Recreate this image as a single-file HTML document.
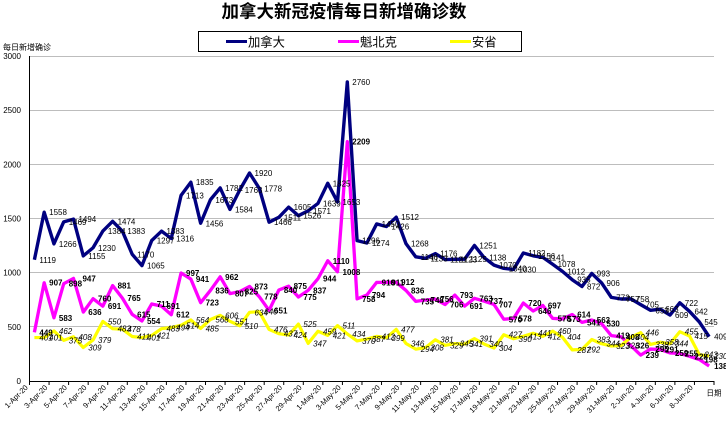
<!DOCTYPE html>
<html><head><meta charset="utf-8">
<style>
html,body{margin:0;padding:0;background:#fff;width:726px;height:423px;overflow:hidden}
svg{display:block}
text{font-family:"Liberation Sans","Noto Sans CJK SC",sans-serif}
.cjk{font-family:"Liberation Sans","Noto Sans CJK SC",sans-serif}
</style></head><body>
<svg width="726" height="423" viewBox="0 0 726 423" xmlns="http://www.w3.org/2000/svg">
<rect width="726" height="423" fill="#fff"/>
<!-- title -->
<text x="344" y="17.3" font-size="17.5" font-weight="bold" text-anchor="middle" class="cjk">加拿大新冠疫情每日新增确诊数</text>
<!-- legend -->
<rect x="198.5" y="31.5" width="323" height="20" fill="#fff" stroke="#000" stroke-width="1"/>
<line x1="226" y1="41.5" x2="247" y2="41.5" stroke="#000080" stroke-width="3"/>
<text x="248" y="46.3" font-size="12.3" class="cjk">加拿大</text>
<line x1="338" y1="41.5" x2="359" y2="41.5" stroke="#ff00ff" stroke-width="3"/>
<text x="360" y="46.3" font-size="12.3" class="cjk">魁北克</text>
<line x1="450" y1="41.5" x2="471" y2="41.5" stroke="#ffff00" stroke-width="3"/>
<text x="472" y="46.3" font-size="12.3" class="cjk">安省</text>
<!-- axis title -->
<text x="3" y="50" font-size="8" class="cjk">每日新增确诊</text>
<!-- gridlines -->
<g stroke="#bdbdbd" stroke-width="1">
<line x1="29.5" y1="56.5" x2="714" y2="56.5"/>
<line x1="29.5" y1="110.5" x2="714" y2="110.5"/>
<line x1="29.5" y1="164.5" x2="714" y2="164.5"/>
<line x1="29.5" y1="218.5" x2="714" y2="218.5"/>
<line x1="29.5" y1="272.5" x2="714" y2="272.5"/>
<line x1="29.5" y1="326.5" x2="714" y2="326.5"/>
</g>
<!-- y tick labels -->
<g font-size="8" text-anchor="end">
<text x="21" y="59">3000</text>
<text x="21" y="113.2">2500</text>
<text x="21" y="167.3">2000</text>
<text x="21" y="221.5">1500</text>
<text x="21" y="275.7">1000</text>
<text x="21" y="329.8">500</text>
<text x="21" y="384">0</text>
</g>
<!-- axes -->
<line x1="29.5" y1="56" x2="29.5" y2="381.5" stroke="#000" stroke-width="1"/>
<line x1="29.5" y1="381.5" x2="714" y2="381.5" stroke="#000" stroke-width="1"/>
<path stroke="#000" stroke-width="1" fill="none" d="M29.5,381V385M49.06,381V385M68.61,381V385M88.17,381V385M107.73,381V385M127.29,381V385M146.84,381V385M166.4,381V385M185.96,381V385M205.51,381V385M225.07,381V385M244.63,381V385M264.19,381V385M283.74,381V385M303.3,381V385M322.86,381V385M342.42,381V385M361.97,381V385M381.53,381V385M401.09,381V385M420.64,381V385M440.2,381V385M459.76,381V385M479.32,381V385M498.87,381V385M518.43,381V385M537.99,381V385M557.54,381V385M577.1,381V385M596.66,381V385M616.22,381V385M635.77,381V385M655.33,381V385M674.89,381V385M694.44,381V385M714,381V385"/>
<!-- x labels -->
<g font-size="7.5" text-anchor="end">
<text transform="translate(28.39 388) rotate(-45)">1-Apr-20</text>
<text transform="translate(47.95 388) rotate(-45)">3-Apr-20</text>
<text transform="translate(67.50 388) rotate(-45)">5-Apr-20</text>
<text transform="translate(87.06 388) rotate(-45)">7-Apr-20</text>
<text transform="translate(106.62 388) rotate(-45)">9-Apr-20</text>
<text transform="translate(126.18 388) rotate(-45)">11-Apr-20</text>
<text transform="translate(145.73 388) rotate(-45)">13-Apr-20</text>
<text transform="translate(165.29 388) rotate(-45)">15-Apr-20</text>
<text transform="translate(184.85 388) rotate(-45)">17-Apr-20</text>
<text transform="translate(204.40 388) rotate(-45)">19-Apr-20</text>
<text transform="translate(223.96 388) rotate(-45)">21-Apr-20</text>
<text transform="translate(243.52 388) rotate(-45)">23-Apr-20</text>
<text transform="translate(263.08 388) rotate(-45)">25-Apr-20</text>
<text transform="translate(282.63 388) rotate(-45)">27-Apr-20</text>
<text transform="translate(302.19 388) rotate(-45)">29-Apr-20</text>
<text transform="translate(321.75 388) rotate(-45)">1-May-20</text>
<text transform="translate(341.30 388) rotate(-45)">3-May-20</text>
<text transform="translate(360.86 388) rotate(-45)">5-May-20</text>
<text transform="translate(380.42 388) rotate(-45)">7-May-20</text>
<text transform="translate(399.98 388) rotate(-45)">9-May-20</text>
<text transform="translate(419.53 388) rotate(-45)">11-May-20</text>
<text transform="translate(439.09 388) rotate(-45)">13-May-20</text>
<text transform="translate(458.65 388) rotate(-45)">15-May-20</text>
<text transform="translate(478.20 388) rotate(-45)">17-May-20</text>
<text transform="translate(497.76 388) rotate(-45)">19-May-20</text>
<text transform="translate(517.32 388) rotate(-45)">21-May-20</text>
<text transform="translate(536.88 388) rotate(-45)">23-May-20</text>
<text transform="translate(556.43 388) rotate(-45)">25-May-20</text>
<text transform="translate(575.99 388) rotate(-45)">27-May-20</text>
<text transform="translate(595.55 388) rotate(-45)">29-May-20</text>
<text transform="translate(615.10 388) rotate(-45)">31-May-20</text>
<text transform="translate(634.66 388) rotate(-45)">2-Jun-20</text>
<text transform="translate(654.22 388) rotate(-45)">4-Jun-20</text>
<text transform="translate(673.78 388) rotate(-45)">6-Jun-20</text>
<text transform="translate(693.33 388) rotate(-45)">8-Jun-20</text>
</g>
<text x="706.5" y="395.5" font-size="7.5" class="cjk">日期</text>

<!-- data group: x = category index, y = value -->
<g transform="translate(34.389 381) scale(9.7786 -0.108333)">
<polyline fill="none" stroke="#000080" stroke-width="3.4" stroke-linejoin="round" vector-effect="non-scaling-stroke" points="0,1119 1,1558 2,1266 3,1469 4,1494 5,1155 6,1230 7,1384 8,1474 9,1383 10,1170 11,1065 12,1297 13,1383 14,1316 15,1713 16,1835 17,1456 18,1673 19,1782 20,1584 21,1763 22,1920 23,1778 24,1466 25,1511 26,1605 27,1526 28,1571 29,1639 30,1825 31,1653 32,2760 33,1296 34,1274 35,1450 36,1426 37,1512 38,1268 39,1146 40,1133 41,1176 42,1121 43,1123 44,1125 45,1251 46,1138 47,1070 48,1040 49,1030 50,1182 51,1156 52,1141 53,1078 54,1012 55,935 56,872 57,993 58,906 59,772 60,757 61,758 62,705 63,653 64,663 65,609 66,722 67,642 68,545 69,409"/>
<polyline fill="none" stroke="#ff00ff" stroke-width="3.3" stroke-linejoin="round" vector-effect="non-scaling-stroke" points="0,449 1,907 2,583 3,898 4,947 5,636 6,760 7,691 8,881 9,765 10,615 11,554 12,711 13,691 14,612 15,997 16,941 17,723 18,836 19,962 20,807 21,825 22,873 23,778 24,651 25,840 26,875 27,775 28,837 29,944 30,1110 31,1008 32,2209 33,758 34,794 35,910 36,911 37,912 38,836 39,735 40,748 41,756 42,706 43,793 44,691 45,763 46,737 47,707 48,570 49,578 50,720 51,646 52,697 53,578 54,573 55,614 56,541 57,563 58,530 59,419 60,408 61,326 62,239 63,295 64,291 65,259 66,255 67,228 68,198 69,138"/>
<polyline fill="none" stroke="#ffff00" stroke-width="3.2" stroke-linejoin="round" vector-effect="non-scaling-stroke" points="0,401 1,401 2,462 3,375 4,408 5,309 6,379 7,550 8,483 9,478 10,411 11,401 12,421 13,483 14,494 15,514 16,564 17,485 18,568 19,606 20,551 21,510 22,634 23,640 24,476 25,437 26,424 27,525 28,347 29,459 30,421 31,511 32,434 33,370 34,387 35,412 36,399 37,477 38,346 39,294 40,308 41,381 42,329 43,345 44,341 45,391 46,340 47,304 48,427 49,390 50,413 51,441 52,412 53,460 54,404 55,287 56,292 57,383 58,344 59,323 60,328 61,404 62,446 63,338 64,358 65,344 66,455 67,415 68,243 69,230"/>

<!-- Canada labels -->
<g font-size="8">
<text transform="translate(0 1119)scale(.102264 -9.23077)" x="5" y="3">1119</text>
<text transform="translate(1 1558)scale(.102264 -9.23077)" x="5" y="3">1558</text>
<text transform="translate(2 1266)scale(.102264 -9.23077)" x="5" y="3">1266</text>
<text transform="translate(3 1469)scale(.102264 -9.23077)" x="5" y="3">1469</text>
<text transform="translate(4 1494)scale(.102264 -9.23077)" x="5" y="3">1494</text>
<text transform="translate(5 1155)scale(.102264 -9.23077)" x="5" y="3">1155</text>
<text transform="translate(6 1230)scale(.102264 -9.23077)" x="5" y="3">1230</text>
<text transform="translate(7 1384)scale(.102264 -9.23077)" x="5" y="3">1384</text>
<text transform="translate(8 1474)scale(.102264 -9.23077)" x="5" y="3">1474</text>
<text transform="translate(9 1383)scale(.102264 -9.23077)" x="5" y="3">1383</text>
<text transform="translate(10 1170)scale(.102264 -9.23077)" x="5" y="3">1170</text>
<text transform="translate(11 1065)scale(.102264 -9.23077)" x="5" y="3">1065</text>
<text transform="translate(12 1297)scale(.102264 -9.23077)" x="5" y="3">1297</text>
<text transform="translate(13 1383)scale(.102264 -9.23077)" x="5" y="3">1383</text>
<text transform="translate(14 1316)scale(.102264 -9.23077)" x="5" y="3">1316</text>
<text transform="translate(15 1713)scale(.102264 -9.23077)" x="5" y="3">1713</text>
<text transform="translate(16 1835)scale(.102264 -9.23077)" x="5" y="3">1835</text>
<text transform="translate(17 1456)scale(.102264 -9.23077)" x="5" y="3">1456</text>
<text transform="translate(18 1673)scale(.102264 -9.23077)" x="5" y="3">1673</text>
<text transform="translate(19 1782)scale(.102264 -9.23077)" x="5" y="3">1782</text>
<text transform="translate(20 1584)scale(.102264 -9.23077)" x="5" y="3">1584</text>
<text transform="translate(21 1763)scale(.102264 -9.23077)" x="5" y="3">1763</text>
<text transform="translate(22 1920)scale(.102264 -9.23077)" x="5" y="3">1920</text>
<text transform="translate(23 1778)scale(.102264 -9.23077)" x="5" y="3">1778</text>
<text transform="translate(24 1466)scale(.102264 -9.23077)" x="5" y="3">1466</text>
<text transform="translate(25 1511)scale(.102264 -9.23077)" x="5" y="3">1511</text>
<text transform="translate(26 1605)scale(.102264 -9.23077)" x="5" y="3">1605</text>
<text transform="translate(27 1526)scale(.102264 -9.23077)" x="5" y="3">1526</text>
<text transform="translate(28 1571)scale(.102264 -9.23077)" x="5" y="3">1571</text>
<text transform="translate(29 1639)scale(.102264 -9.23077)" x="5" y="3">1639</text>
<text transform="translate(30 1825)scale(.102264 -9.23077)" x="5" y="3">1825</text>
<text transform="translate(31 1653)scale(.102264 -9.23077)" x="5" y="3">1653</text>
<text transform="translate(32 2760)scale(.102264 -9.23077)" x="5" y="3">2760</text>
<text transform="translate(33 1296)scale(.102264 -9.23077)" x="5" y="3">1296</text>
<text transform="translate(34 1274)scale(.102264 -9.23077)" x="5" y="3">1274</text>
<text transform="translate(35 1450)scale(.102264 -9.23077)" x="5" y="3">1450</text>
<text transform="translate(36 1426)scale(.102264 -9.23077)" x="5" y="3">1426</text>
<text transform="translate(37 1512)scale(.102264 -9.23077)" x="5" y="3">1512</text>
<text transform="translate(38 1268)scale(.102264 -9.23077)" x="5" y="3">1268</text>
<text transform="translate(39 1146)scale(.102264 -9.23077)" x="5" y="3">1146</text>
<text transform="translate(40 1133)scale(.102264 -9.23077)" x="5" y="3">1133</text>
<text transform="translate(41 1176)scale(.102264 -9.23077)" x="5" y="3">1176</text>
<text transform="translate(42 1121)scale(.102264 -9.23077)" x="5" y="3">1121</text>
<text transform="translate(43 1123)scale(.102264 -9.23077)" x="5" y="3">1123</text>
<text transform="translate(44 1125)scale(.102264 -9.23077)" x="5" y="3">1125</text>
<text transform="translate(45 1251)scale(.102264 -9.23077)" x="5" y="3">1251</text>
<text transform="translate(46 1138)scale(.102264 -9.23077)" x="5" y="3">1138</text>
<text transform="translate(47 1070)scale(.102264 -9.23077)" x="5" y="3">1070</text>
<text transform="translate(48 1040)scale(.102264 -9.23077)" x="5" y="3">1040</text>
<text transform="translate(49 1030)scale(.102264 -9.23077)" x="5" y="3">1030</text>
<text transform="translate(50 1182)scale(.102264 -9.23077)" x="5" y="3">1182</text>
<text transform="translate(51 1156)scale(.102264 -9.23077)" x="5" y="3">1156</text>
<text transform="translate(52 1141)scale(.102264 -9.23077)" x="5" y="3">1141</text>
<text transform="translate(53 1078)scale(.102264 -9.23077)" x="5" y="3">1078</text>
<text transform="translate(54 1012)scale(.102264 -9.23077)" x="5" y="3">1012</text>
<text transform="translate(55 935)scale(.102264 -9.23077)" x="5" y="3">935</text>
<text transform="translate(56 872)scale(.102264 -9.23077)" x="5" y="3">872</text>
<text transform="translate(57 993)scale(.102264 -9.23077)" x="5" y="3">993</text>
<text transform="translate(58 906)scale(.102264 -9.23077)" x="5" y="3">906</text>
<text transform="translate(59 772)scale(.102264 -9.23077)" x="5" y="3">772</text>
<text transform="translate(60 757)scale(.102264 -9.23077)" x="5" y="3">757</text>
<text transform="translate(61 758)scale(.102264 -9.23077)" x="5" y="3">758</text>
<text transform="translate(62 705)scale(.102264 -9.23077)" x="5" y="3">705</text>
<text transform="translate(63 653)scale(.102264 -9.23077)" x="5" y="3">653</text>
<text transform="translate(64 663)scale(.102264 -9.23077)" x="5" y="3">663</text>
<text transform="translate(65 609)scale(.102264 -9.23077)" x="5" y="3">609</text>
<text transform="translate(66 722)scale(.102264 -9.23077)" x="5" y="3">722</text>
<text transform="translate(67 642)scale(.102264 -9.23077)" x="5" y="3">642</text>
<text transform="translate(68 545)scale(.102264 -9.23077)" x="5" y="3">545</text>
<text transform="translate(69 409)scale(.102264 -9.23077)" x="5" y="3">409</text>
</g>

<!-- Quebec labels -->
<g font-size="8" font-weight="bold">
<text transform="translate(0 449)scale(.102264 -9.23077)" x="5" y="3">449</text>
<text transform="translate(1 907)scale(.102264 -9.23077)" x="5" y="3">907</text>
<text transform="translate(2 583)scale(.102264 -9.23077)" x="5" y="3">583</text>
<text transform="translate(3 898)scale(.102264 -9.23077)" x="5" y="3">898</text>
<text transform="translate(4 947)scale(.102264 -9.23077)" x="9" y="3">947</text>
<text transform="translate(5 636)scale(.102264 -9.23077)" x="5" y="3">636</text>
<text transform="translate(6 760)scale(.102264 -9.23077)" x="5" y="3">760</text>
<text transform="translate(7 691)scale(.102264 -9.23077)" x="5" y="3">691</text>
<text transform="translate(8 881)scale(.102264 -9.23077)" x="5" y="3">881</text>
<text transform="translate(9 765)scale(.102264 -9.23077)" x="5" y="3">765</text>
<text transform="translate(10 615)scale(.102264 -9.23077)" x="5" y="3">615</text>
<text transform="translate(11 554)scale(.102264 -9.23077)" x="5" y="3">554</text>
<text transform="translate(12 711)scale(.102264 -9.23077)" x="5" y="3">711</text>
<text transform="translate(13 691)scale(.102264 -9.23077)" x="5" y="3">691</text>
<text transform="translate(14 612)scale(.102264 -9.23077)" x="5" y="3">612</text>
<text transform="translate(15 997)scale(.102264 -9.23077)" x="5" y="3">997</text>
<text transform="translate(16 941)scale(.102264 -9.23077)" x="5" y="3">941</text>
<text transform="translate(17 723)scale(.102264 -9.23077)" x="5" y="3">723</text>
<text transform="translate(18 836)scale(.102264 -9.23077)" x="5" y="3">836</text>
<text transform="translate(19 962)scale(.102264 -9.23077)" x="5" y="3">962</text>
<text transform="translate(20 807)scale(.102264 -9.23077)" x="5" y="3">807</text>
<text transform="translate(21 825)scale(.102264 -9.23077)" x="5" y="3">825</text>
<text transform="translate(22 873)scale(.102264 -9.23077)" x="5" y="3">873</text>
<text transform="translate(23 778)scale(.102264 -9.23077)" x="5" y="3">778</text>
<text transform="translate(24 651)scale(.102264 -9.23077)" x="5" y="3">651</text>
<text transform="translate(25 840)scale(.102264 -9.23077)" x="5" y="3">840</text>
<text transform="translate(26 875)scale(.102264 -9.23077)" x="5" y="3">875</text>
<text transform="translate(27 775)scale(.102264 -9.23077)" x="5" y="3">775</text>
<text transform="translate(28 837)scale(.102264 -9.23077)" x="5" y="3">837</text>
<text transform="translate(29 944)scale(.102264 -9.23077)" x="5" y="3">944</text>
<text transform="translate(30 1110)scale(.102264 -9.23077)" x="5" y="3">1110</text>
<text transform="translate(31 1008)scale(.102264 -9.23077)" x="5" y="3">1008</text>
<text transform="translate(32 2209)scale(.102264 -9.23077)" x="5" y="3">2209</text>
<text transform="translate(33 758)scale(.102264 -9.23077)" x="5" y="3">758</text>
<text transform="translate(34 794)scale(.102264 -9.23077)" x="5" y="3">794</text>
<text transform="translate(35 910)scale(.102264 -9.23077)" x="5" y="3">910</text>
<text transform="translate(36 911)scale(.102264 -9.23077)" x="5" y="3">911</text>
<text transform="translate(37 912)scale(.102264 -9.23077)" x="5" y="3">912</text>
<text transform="translate(38 836)scale(.102264 -9.23077)" x="5" y="3">836</text>
<text transform="translate(39 735)scale(.102264 -9.23077)" x="5" y="3">735</text>
<text transform="translate(40 748)scale(.102264 -9.23077)" x="5" y="3">748</text>
<text transform="translate(41 756)scale(.102264 -9.23077)" x="5" y="3">756</text>
<text transform="translate(42 706)scale(.102264 -9.23077)" x="5" y="3">706</text>
<text transform="translate(43 793)scale(.102264 -9.23077)" x="5" y="3">793</text>
<text transform="translate(44 691)scale(.102264 -9.23077)" x="5" y="3">691</text>
<text transform="translate(45 763)scale(.102264 -9.23077)" x="5" y="3">763</text>
<text transform="translate(46 737)scale(.102264 -9.23077)" x="5" y="3">737</text>
<text transform="translate(47 707)scale(.102264 -9.23077)" x="5" y="3">707</text>
<text transform="translate(48 570)scale(.102264 -9.23077)" x="5" y="3">570</text>
<text transform="translate(49 578)scale(.102264 -9.23077)" x="5" y="3">578</text>
<text transform="translate(50 720)scale(.102264 -9.23077)" x="5" y="3">720</text>
<text transform="translate(51 646)scale(.102264 -9.23077)" x="5" y="3">646</text>
<text transform="translate(52 697)scale(.102264 -9.23077)" x="5" y="3">697</text>
<text transform="translate(53 578)scale(.102264 -9.23077)" x="5" y="3">578</text>
<text transform="translate(54 573)scale(.102264 -9.23077)" x="5" y="3">573</text>
<text transform="translate(55 614)scale(.102264 -9.23077)" x="5" y="3">614</text>
<text transform="translate(56 541)scale(.102264 -9.23077)" x="5" y="3">541</text>
<text transform="translate(57 563)scale(.102264 -9.23077)" x="5" y="3">563</text>
<text transform="translate(58 530)scale(.102264 -9.23077)" x="5" y="3">530</text>
<text transform="translate(59 419)scale(.102264 -9.23077)" x="5" y="3">419</text>
<text transform="translate(60 408)scale(.102264 -9.23077)" x="5" y="3">408</text>
<text transform="translate(61 326)scale(.102264 -9.23077)" x="5" y="3">326</text>
<text transform="translate(62 239)scale(.102264 -9.23077)" x="5" y="3">239</text>
<text transform="translate(63 295)scale(.102264 -9.23077)" x="5" y="3">295</text>
<text transform="translate(64 291)scale(.102264 -9.23077)" x="5" y="3">291</text>
<text transform="translate(65 259)scale(.102264 -9.23077)" x="5" y="3">259</text>
<text transform="translate(66 255)scale(.102264 -9.23077)" x="5" y="3">255</text>
<text transform="translate(67 228)scale(.102264 -9.23077)" x="5" y="3">228</text>
<text transform="translate(68 198)scale(.102264 -9.23077)" x="5" y="3">198</text>
<text transform="translate(69 138)scale(.102264 -9.23077)" x="5" y="3">138</text>
</g>

<!-- Ontario labels -->
<g font-size="8" font-style="italic">
<text transform="translate(0 401)scale(.102264 -9.23077)" x="5" y="3">401</text>
<text transform="translate(1 401)scale(.102264 -9.23077)" x="5" y="3">401</text>
<text transform="translate(2 462)scale(.102264 -9.23077)" x="5" y="3">462</text>
<text transform="translate(3 375)scale(.102264 -9.23077)" x="5" y="3">375</text>
<text transform="translate(4 408)scale(.102264 -9.23077)" x="5" y="3">408</text>
<text transform="translate(5 309)scale(.102264 -9.23077)" x="5" y="3">309</text>
<text transform="translate(6 379)scale(.102264 -9.23077)" x="5" y="3">379</text>
<text transform="translate(7 550)scale(.102264 -9.23077)" x="5" y="3">550</text>
<text transform="translate(8 483)scale(.102264 -9.23077)" x="5" y="3">483</text>
<text transform="translate(9 478)scale(.102264 -9.23077)" x="5" y="3">478</text>
<text transform="translate(10 411)scale(.102264 -9.23077)" x="5" y="3">411</text>
<text transform="translate(11 401)scale(.102264 -9.23077)" x="5" y="3">401</text>
<text transform="translate(12 421)scale(.102264 -9.23077)" x="5" y="3">421</text>
<text transform="translate(13 483)scale(.102264 -9.23077)" x="5" y="3">483</text>
<text transform="translate(14 494)scale(.102264 -9.23077)" x="5" y="3">494</text>
<text transform="translate(15 514)scale(.102264 -9.23077)" x="5" y="3">514</text>
<text transform="translate(16 564)scale(.102264 -9.23077)" x="5" y="3">564</text>
<text transform="translate(17 485)scale(.102264 -9.23077)" x="5" y="3">485</text>
<text transform="translate(18 568)scale(.102264 -9.23077)" x="5" y="3">568</text>
<text transform="translate(19 606)scale(.102264 -9.23077)" x="5" y="3">606</text>
<text transform="translate(20 551)scale(.102264 -9.23077)" x="5" y="3">551</text>
<text transform="translate(21 510)scale(.102264 -9.23077)" x="5" y="3">510</text>
<text transform="translate(22 634)scale(.102264 -9.23077)" x="5" y="3">634</text>
<text transform="translate(23 640)scale(.102264 -9.23077)" x="5" y="3">640</text>
<text transform="translate(24 476)scale(.102264 -9.23077)" x="5" y="3">476</text>
<text transform="translate(25 437)scale(.102264 -9.23077)" x="5" y="3">437</text>
<text transform="translate(26 424)scale(.102264 -9.23077)" x="5" y="3">424</text>
<text transform="translate(27 525)scale(.102264 -9.23077)" x="5" y="3">525</text>
<text transform="translate(28 347)scale(.102264 -9.23077)" x="5" y="3">347</text>
<text transform="translate(29 459)scale(.102264 -9.23077)" x="5" y="3">459</text>
<text transform="translate(30 421)scale(.102264 -9.23077)" x="5" y="3">421</text>
<text transform="translate(31 511)scale(.102264 -9.23077)" x="5" y="3">511</text>
<text transform="translate(32 434)scale(.102264 -9.23077)" x="5" y="3">434</text>
<text transform="translate(33 370)scale(.102264 -9.23077)" x="5" y="3">370</text>
<text transform="translate(34 387)scale(.102264 -9.23077)" x="5" y="3">387</text>
<text transform="translate(35 412)scale(.102264 -9.23077)" x="5" y="3">412</text>
<text transform="translate(36 399)scale(.102264 -9.23077)" x="5" y="3">399</text>
<text transform="translate(37 477)scale(.102264 -9.23077)" x="5" y="3">477</text>
<text transform="translate(38 346)scale(.102264 -9.23077)" x="5" y="3">346</text>
<text transform="translate(39 294)scale(.102264 -9.23077)" x="5" y="3">294</text>
<text transform="translate(40 308)scale(.102264 -9.23077)" x="5" y="3">308</text>
<text transform="translate(41 381)scale(.102264 -9.23077)" x="5" y="3">381</text>
<text transform="translate(42 329)scale(.102264 -9.23077)" x="5" y="3">329</text>
<text transform="translate(43 345)scale(.102264 -9.23077)" x="5" y="3">345</text>
<text transform="translate(44 341)scale(.102264 -9.23077)" x="5" y="3">341</text>
<text transform="translate(45 391)scale(.102264 -9.23077)" x="5" y="3">391</text>
<text transform="translate(46 340)scale(.102264 -9.23077)" x="5" y="3">340</text>
<text transform="translate(47 304)scale(.102264 -9.23077)" x="5" y="3">304</text>
<text transform="translate(48 427)scale(.102264 -9.23077)" x="5" y="3">427</text>
<text transform="translate(49 390)scale(.102264 -9.23077)" x="5" y="3">390</text>
<text transform="translate(50 413)scale(.102264 -9.23077)" x="5" y="3">413</text>
<text transform="translate(51 441)scale(.102264 -9.23077)" x="5" y="3">441</text>
<text transform="translate(52 412)scale(.102264 -9.23077)" x="5" y="3">412</text>
<text transform="translate(53 460)scale(.102264 -9.23077)" x="5" y="3">460</text>
<text transform="translate(54 404)scale(.102264 -9.23077)" x="5" y="3">404</text>
<text transform="translate(55 287)scale(.102264 -9.23077)" x="5" y="3">287</text>
<text transform="translate(56 292)scale(.102264 -9.23077)" x="5" y="3">292</text>
<text transform="translate(57 383)scale(.102264 -9.23077)" x="5" y="3">383</text>
<text transform="translate(58 344)scale(.102264 -9.23077)" x="5" y="3">344</text>
<text transform="translate(59 323)scale(.102264 -9.23077)" x="5" y="3">323</text>
<text transform="translate(60 328)scale(.102264 -9.23077)" x="5" y="3">328</text>
<text transform="translate(61 404)scale(.102264 -9.23077)" x="5" y="3">404</text>
<text transform="translate(62 446)scale(.102264 -9.23077)" x="5" y="3">446</text>
<text transform="translate(63 338)scale(.102264 -9.23077)" x="5" y="3">338</text>
<text transform="translate(64 358)scale(.102264 -9.23077)" x="5" y="3">358</text>
<text transform="translate(65 344)scale(.102264 -9.23077)" x="5" y="3">344</text>
<text transform="translate(66 455)scale(.102264 -9.23077)" x="5" y="3">455</text>
<text transform="translate(67 415)scale(.102264 -9.23077)" x="5" y="3">415</text>
<text transform="translate(68 243)scale(.102264 -9.23077)" x="5" y="3">243</text>
<text transform="translate(69 230)scale(.102264 -9.23077)" x="5" y="3">230</text>
</g>
</g>
</svg>
</body></html>
